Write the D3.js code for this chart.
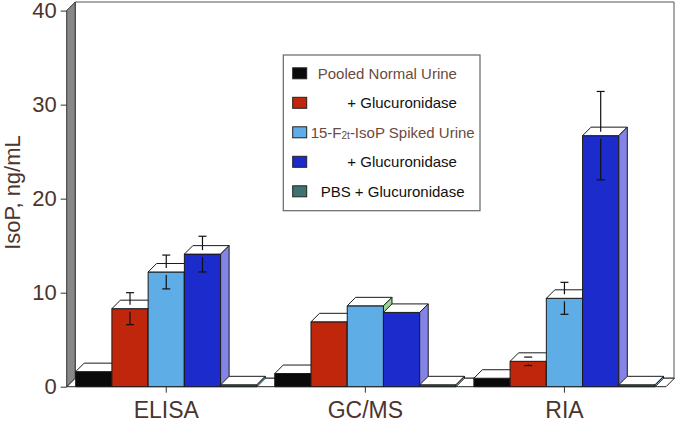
<!DOCTYPE html>
<html>
<head>
<meta charset="utf-8">
<style>
body { margin: 0; background: #fff; }
svg { display: block; font-family: "Liberation Sans", Arial, sans-serif; }
</style>
</head>
<body>
<svg width="675" height="427"></svg>
<script src="https://cdn.jsdelivr.net/npm/d3@7"></script>
<script>
// data
var categories = ["ELISA", "GC/MS", "RIA"];
var seriesNames = ["Pooled Normal Urine", "+ Glucuronidase", "15-F2t-IsoP Spiked Urine", "+ Glucuronidase", "PBS + Glucuronidase"];
var pooled      = [1.6, 1.4, 0.9];
var pooledGluc  = [8.3, 6.9, 2.7];
var spiked      = [12.2, 8.6, 9.4];
var spikedGluc  = [14.1, 7.9, 26.7];
var pbsGluc     = [0.2, 0.2, 0.2];
var pooledGlucErr = [1.7, 0, 0.45];
var spikedErr     = [1.8, 0, 1.7];
var spikedGlucErr = [1.9, 0, 4.7];
var yTicks = [0, 10, 20, 30, 40];

var series = [pooled, pooledGluc, spiked, spikedGluc, pbsGluc];
var errs = [null, pooledGlucErr, spikedErr, spikedGlucErr, null];

var front = ["#0a0a0a", "#c0260c", "#5eade6", "#1c2ccc", "#3e7372"];
var side  = ["#444444", "#e07050", "#98d890", "#8484e8", "#86c8dc"];
var legendX = [317.7, 347.3, 310.7, 347.3, 320.7];

var svg = d3.select("svg");
var dx = 8.5, dy = 8.5; // depth offset
var x0 = 66.7, x1 = 664, yBase = 386.7;

var x = d3.scaleBand().domain(categories).range([x0, x1]).paddingInner(0.09).paddingOuter(0.045);
var xs = d3.scaleBand().domain(d3.range(series.length)).range([0, x.bandwidth()]);
var y = d3.scaleLinear().domain([0, 40]).range([yBase, 10.6]);

function poly(pts) { return pts.map(function(p) { return p.join(","); }).join(" "); }

// back wall frame
svg.append("polygon")
  .attr("points", poly([[x0 + dx, yBase - dy], [x0 + dx, 2], [674, 2], [674, yBase - dy]]))
  .attr("fill", "#fff").attr("stroke", "#555").attr("stroke-width", 1);

// floor
svg.append("polygon")
  .attr("points", poly([[x0, yBase], [x1 + 2, yBase], [x1 + 2 + dx, yBase - dy], [x0 + dx, yBase - dy]]))
  .attr("fill", "#fff").attr("stroke", "#222").attr("stroke-width", 1);

// left wall
svg.append("polygon")
  .attr("points", poly([[x0, yBase], [x0 + dx, yBase - dy], [x0 + dx, y(40) - dy], [x0, y(40)]]))
  .attr("fill", "#888").attr("stroke", "#333").attr("stroke-width", 1);

// bars
categories.forEach(function(c, ci) {
  series.forEach(function(s, si) {
    var bx = x(c) + xs(si), w = xs.bandwidth(), top = y(s[ci]);
    var g = svg.append("g");
    g.append("polygon")
      .attr("points", poly([[bx, yBase], [bx, top], [bx + w, top], [bx + w, yBase]]))
      .attr("fill", front[si]).attr("stroke", "#1a1a1a").attr("stroke-width", 1);
    g.append("polygon")
      .attr("points", poly([[bx, top], [bx + dx, top - dy], [bx + w + dx, top - dy], [bx + w, top]]))
      .attr("fill", "#fff").attr("stroke", "#1a1a1a").attr("stroke-width", 1);
    g.append("polygon")
      .attr("points", poly([[bx + w, top], [bx + w + dx, top - dy], [bx + w + dx, yBase - dy], [bx + w, yBase]]))
      .attr("fill", side[si]).attr("stroke", "#1a1a1a").attr("stroke-width", 1);
  });
  // error bars
  series.forEach(function(s, si) {
    if (!errs[si] || !errs[si][ci]) return;
    var cx = x(c) + xs(si) + xs.bandwidth() / 2, v = s[ci], e = errs[si][ci];
    var g = svg.append("g").attr("stroke", "#111").attr("stroke-width", 1.2);
    var yu = y(v + e), yl = y(v - e), yt = y(v);
    g.append("line").attr("x1", cx).attr("x2", cx).attr("y1", yu).attr("y2", Math.max(yu, yt - 4));
    g.append("line").attr("x1", cx - 4).attr("x2", cx + 4).attr("y1", yu).attr("y2", yu);
    g.append("line").attr("x1", cx).attr("x2", cx).attr("y1", Math.min(yl, yt + 3)).attr("y2", yl);
    g.append("line").attr("x1", cx - 4).attr("x2", cx + 4).attr("y1", yl).attr("y2", yl);
  });
});

// y axis
var yAxis = svg.append("g").attr("transform", "translate(" + x0 + ",0)")
  .call(d3.axisLeft(y).tickValues(yTicks).tickSize(6).tickPadding(4));
yAxis.select(".domain").remove();
yAxis.selectAll("line").attr("stroke", "#333");
yAxis.selectAll("text").attr("font-size", 22).attr("fill", "#4b352c").attr("font-family", "Liberation Sans, Arial, sans-serif");

// x axis
var xAxis = svg.append("g").attr("transform", "translate(0," + yBase + ")")
  .call(d3.axisBottom(x).tickSize(6).tickPadding(9));
xAxis.select(".domain").remove();
xAxis.selectAll("line").attr("stroke", "#333");
xAxis.selectAll("text").attr("font-size", 23).attr("fill", "#4b352c").attr("font-family", "Liberation Sans, Arial, sans-serif");

// y label
svg.append("text")
  .attr("transform", "translate(20,192.5) rotate(-90)")
  .attr("text-anchor", "middle")
  .attr("font-size", 22).attr("fill", "#4b352c")
  .text("IsoP, ng/mL");

// legend
var lg = svg.append("g");
lg.append("rect").attr("x", 283.3).attr("y", 55).attr("width", 196.7).attr("height", 155.7)
  .attr("fill", "#fff").attr("stroke", "#666").attr("stroke-width", 1.2);
seriesNames.forEach(function(n, i) {
  var cy = 73.3 + 29.5 * i;
  lg.append("rect").attr("x", 292.7).attr("y", cy - 5.5).attr("width", 14).attr("height", 11)
    .attr("fill", front[i]).attr("stroke", "#222").attr("stroke-width", 1);
  var t = lg.append("text").attr("x", legendX[i]).attr("y", cy + 5.3)
    .attr("font-size", 15).attr("fill", (i === 0 || i === 2) ? "#6b4a40" : "#111");
  if (n.indexOf("F2t") >= 0) {
    t.append("tspan").text("15-F");
    t.append("tspan").attr("font-size", 10).attr("dy", 1.5).text("2t");
    t.append("tspan").attr("dy", -1.5).text("-IsoP Spiked Urine");
  } else {
    t.text(n);
  }
});
</script>
</body>
</html>
